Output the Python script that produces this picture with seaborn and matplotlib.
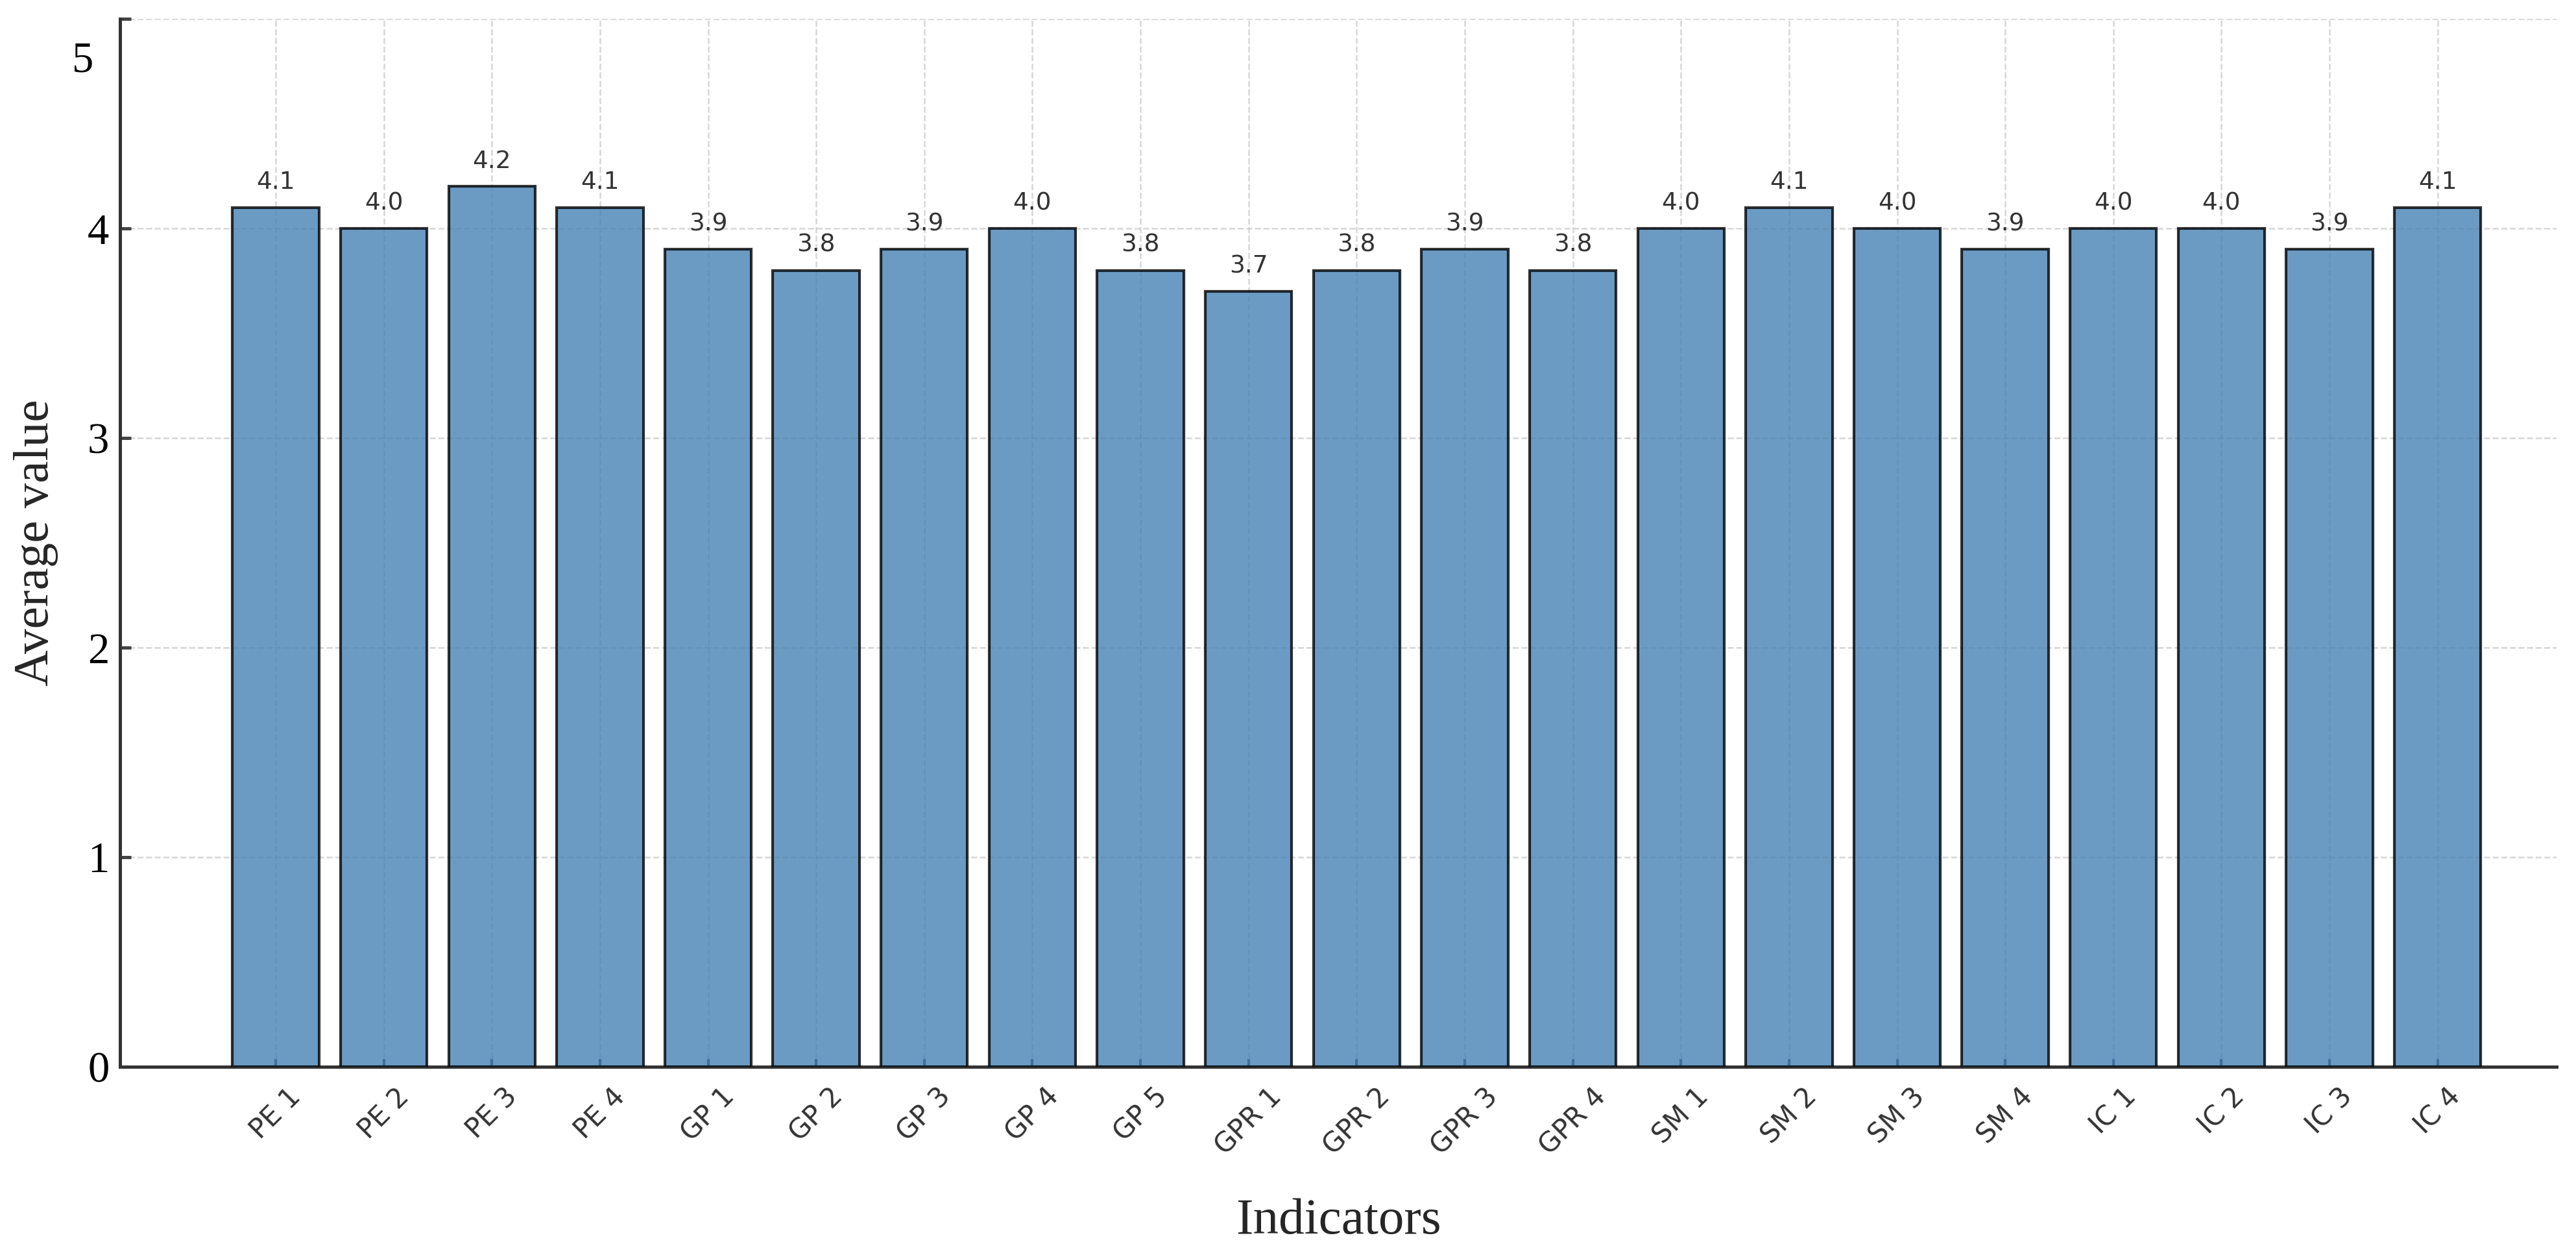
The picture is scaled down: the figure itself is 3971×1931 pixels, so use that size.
import matplotlib
matplotlib.use("Agg")
import matplotlib.pyplot as plt
import matplotlib.transforms as mtransforms
import seaborn as sns
import pandas as pd

indicators = ["PE 1", "PE 2", "PE 3", "PE 4", "GP 1", "GP 2", "GP 3", "GP 4", "GP 5",
              "GPR 1", "GPR 2", "GPR 3", "GPR 4", "SM 1", "SM 2", "SM 3", "SM 4",
              "IC 1", "IC 2", "IC 3", "IC 4"]
values = [4.1, 4.0, 4.2, 4.1, 3.9, 3.8, 3.9, 4.0, 3.8,
          3.7, 3.8, 3.9, 3.8, 4.0, 4.1, 4.0, 3.9,
          4.0, 4.0, 3.9, 4.1]
yticks = [0, 1, 2, 3, 4, 5]

df = pd.DataFrame({"Indicators": indicators, "Average value": values})

sns.set_theme(style="ticks")
plt.rcParams["font.family"] = ["DejaVu Sans"]

fig = plt.figure(figsize=(3971 / 300, 1931 / 300), dpi=300)
ax = fig.add_axes([185 / 3971, 287 / 1931, 3756 / 3971, 1615 / 1931])

sns.barplot(data=df, x="Indicators", y="Average value", ax=ax,
            color="steelblue", alpha=0.8, edgecolor="black", linewidth=1.0,
            width=0.8, saturation=1, zorder=3)

for c in ax.containers:
    ax.bar_label(c, fmt="%.1f", padding=5, fontsize=9, color="#333333",
                 family="DejaVu Sans")

ax.set_xlim(-1.44, 21.1)
ax.set_ylim(0, 5)
ax.set_yticks(yticks)

ax.grid(True, linestyle="--", linewidth=0.6, color="#cccccc", alpha=0.8, zorder=0)
ax.set_axisbelow(True)

sns.despine(ax=ax, top=True, right=True)
for side in ["left", "bottom"]:
    ax.spines[side].set_color("#333333")
    ax.spines[side].set_linewidth(1.2)

ax.tick_params(axis="x", direction="in", length=3, width=1.0, color="#1f2f3f",
               labelsize=10, labelcolor="#333333", pad=6, rotation=45)
ax.tick_params(axis="y", direction="in", length=4, width=1.2, color="#444444",
               labelsize=16, labelcolor="black", pad=4)
for lab in ax.get_yticklabels():
    lab.set_family("Liberation Serif")

# the top label sits lower and further left than its tick in the original
top = ax.get_yticklabels()[-1]
top.set_transform(top.get_transform() +
                  mtransforms.ScaledTranslation(-5.8 / 72, -13.9 / 72, fig.dpi_scale_trans))

ax.set_xlabel("Indicators", fontsize=19, family="Liberation Serif", labelpad=14)
ax.set_ylabel("Average value", fontsize=18.5, family="Liberation Serif", labelpad=5)

fig.savefig("out.png", dpi=300)
